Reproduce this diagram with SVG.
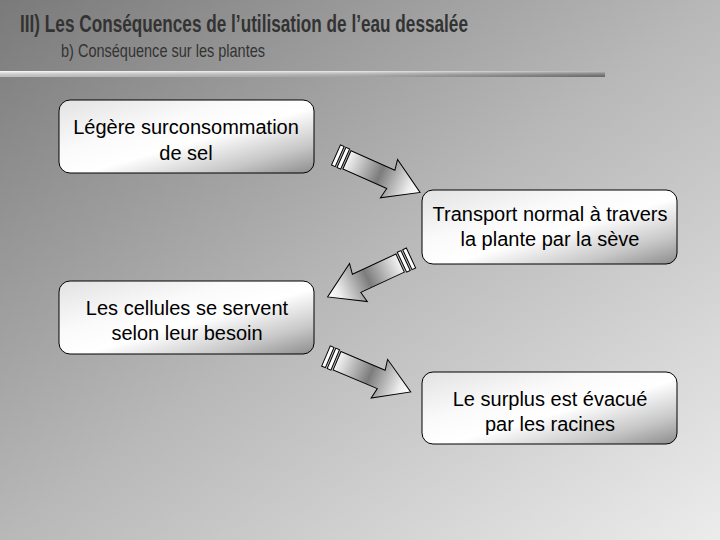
<svg xmlns="http://www.w3.org/2000/svg" width="720" height="540" viewBox="0 0 720 540">
<defs>
<linearGradient id="bg" x1="0" y1="0" x2="1" y2="1">
<stop offset="0" stop-color="#7a7a7a"/>
<stop offset="0.5" stop-color="#b8b8b8"/>
<stop offset="1" stop-color="#ececec"/>
</linearGradient>
<linearGradient id="bar" x1="0" y1="0" x2="1" y2="0">
<stop offset="0" stop-color="#ffffff"/>
<stop offset="0.6" stop-color="#d8d8d8"/>
<stop offset="1" stop-color="#8a8a8a"/>
</linearGradient>
<linearGradient id="barv" x1="0" y1="0" x2="0" y2="1">
<stop offset="0" stop-color="#ffffff" stop-opacity="0.5"/>
<stop offset="1" stop-color="#000000" stop-opacity="0.25"/>
</linearGradient>
<linearGradient id="box" x1="0" y1="0" x2="1" y2="1">
<stop offset="0" stop-color="#e2e2e2"/>
<stop offset="0.35" stop-color="#fafafa"/>
<stop offset="0.55" stop-color="#ffffff"/>
<stop offset="0.8" stop-color="#c8c8c8"/>
<stop offset="1" stop-color="#8c8c8c"/>
</linearGradient>
<linearGradient id="arr" x1="0" y1="0" x2="1" y2="0">
<stop offset="0" stop-color="#f4f4f4"/>
<stop offset="0.45" stop-color="#7c7c7c"/>
<stop offset="0.85" stop-color="#eeeeee"/>
<stop offset="1" stop-color="#ffffff"/>
</linearGradient>
<g id="arrow">
<rect x="0" y="-11" width="4" height="22" fill="#fff" stroke="#000" stroke-width="1"/>
<rect x="6" y="-11" width="4" height="22" fill="#fff" stroke="#000" stroke-width="1"/>
<polygon points="12,-10 60,-10 58,-21 92,0 58,21 60,10 12,10" fill="url(#arr)" stroke="#000" stroke-width="1"/>
</g>
</defs>
<style>
.box{fill:url(#box);stroke:#000;stroke-width:1}
.t{font-family:"Liberation Sans",Arial,sans-serif;font-size:20px;fill:#000;text-anchor:middle}
.h{font-family:"Liberation Sans",Arial,sans-serif;fill:#333}
</style>
<rect x="0" y="0" width="720" height="540" fill="url(#bg)"/>
<text class="h" x="20" y="32" font-size="23" font-weight="bold" textLength="448" lengthAdjust="spacingAndGlyphs">III) Les Conséquences de l’utilisation de l’eau dessalée</text>
<text class="h" x="61" y="57" font-size="19" textLength="204" lengthAdjust="spacingAndGlyphs">b) Conséquence sur les plantes</text>
<rect x="0" y="71" width="605" height="6" fill="url(#bar)"/>
<rect x="0" y="71" width="605" height="6" fill="url(#barv)"/>
<g id="connectors">
<use href="#arrow" transform="translate(336,155) rotate(24)"/>
<use href="#arrow" transform="translate(411,258) rotate(155)"/>
<use href="#arrow" transform="translate(326,356) rotate(23)"/>
</g>
<g id="node1">
<rect class="box" x="59" y="100" width="255" height="73" rx="11"/>
<text class="t" x="186" y="134">Légère surconsommation</text>
<text class="t" x="186" y="160">de sel</text>
</g>
<g id="node2">
<rect class="box" x="422" y="190" width="255" height="74" rx="11"/>
<text class="t" x="550" y="221">Transport normal à travers</text>
<text class="t" x="550" y="246">la plante par la sève</text>
</g>
<g id="node3">
<rect class="box" x="59" y="281" width="255" height="73" rx="11"/>
<text class="t" x="187" y="315">Les cellules se servent</text>
<text class="t" x="187" y="340">selon leur besoin</text>
</g>
<g id="node4">
<rect class="box" x="422" y="372" width="255" height="72" rx="11"/>
<text class="t" x="550" y="406">Le surplus est évacué</text>
<text class="t" x="550" y="431">par les racines</text>
</g>
</svg>
